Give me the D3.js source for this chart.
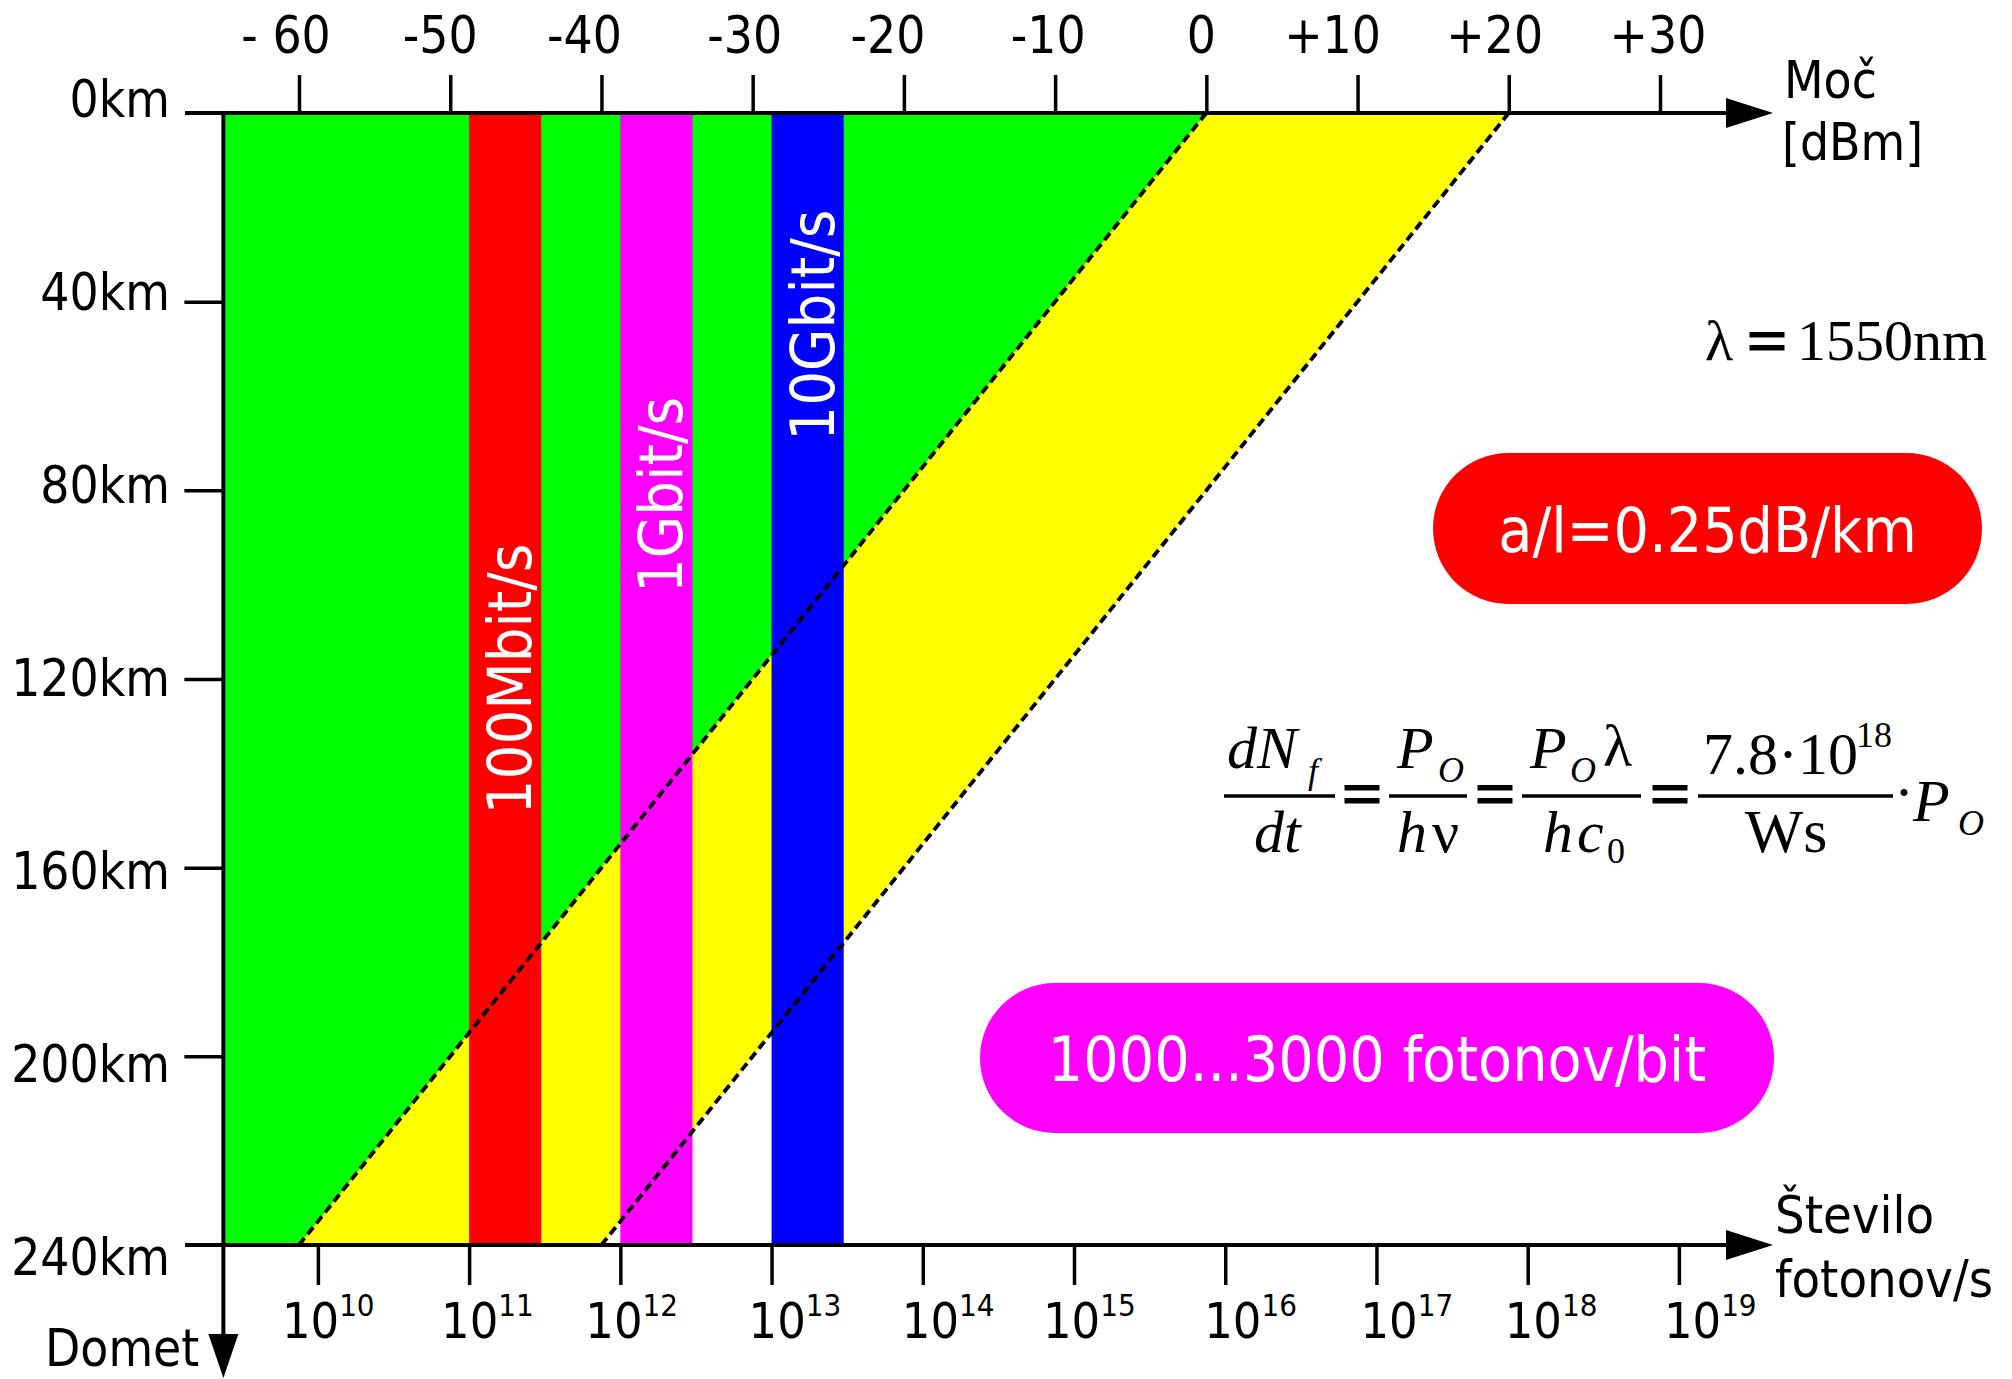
<!DOCTYPE html>
<html>
<head>
<meta charset="utf-8">
<script src="https://cdn.jsdelivr.net/npm/d3@7"></script>
<style>
  body { margin: 0; background: #ffffff; }
  svg text { font-family: "DejaVu Sans Condensed", "DejaVu Sans", sans-serif; font-stretch: condensed; }
  .serif text, text.serif { font-family: "Liberation Serif", "Times New Roman", serif; font-stretch: normal; }
</style>
</head>
<body>
<svg id="chart" width="2012" height="1379"></svg>
<script>
// ---- data ----
const powerTicks = [-60, -50, -40, -30, -20, -10, 0, 10, 20, 30];          // dBm
const powerTickLabels = ["- 60", "-50", "-40", "-30", "-20", "-10", "0", "+10", "+20", "+30"];
const photonExponents = [10, 11, 12, 13, 14, 15, 16, 17, 18, 19];          // 10^k photons/s
const distanceTicks = [0, 40, 80, 120, 160, 200, 240];                      // km
const distanceTickLabels = ["0km", "40km", "80km", "120km", "160km", "200km", "240km"];
const launchPowers = [0, 20];                                               // dBm at 0 km
const attenuation = 0.25;                                                   // dB/km
const bitRates = [1e8, 1e9, 1e10];                                          // bit/s
const bitRateLabels = ["100Mbit/s", "1Gbit/s", "10Gbit/s"];
const photonsPerBit = [1000, 3000];
const photonsAt0dBm = 7.5e15;                                               // photons/s at 1 mW
const powerMin = -65, distanceMax = 240;

// ---- layout ----
const svg = d3.select("#chart");
const x = d3.scaleLinear().domain([-60, 30]).range([299, 1660]);
const y = d3.scaleLinear().domain([0, distanceMax]).range([113, 1245]);
const xN = d3.scaleLog()
  .domain([photonsAt0dBm * Math.pow(10, -60 / 10), photonsAt0dBm * Math.pow(10, 30 / 10)])
  .range([x(-60), x(30)]);
const yLabel = d3.scaleLinear().domain([0, distanceMax]).range([117, 1275]);
const topLabelShift = [-13, -10, -17, -8, -16, -7, -5, -25, -14, -2];
const bottomLabelShift = [-36, -28, -35, -23, -21, -31, -21, -16, -23, -15];
const bandLabelKm = [120, 81, 45];
const bandColors = ["#ff0000", "#ff00ff", "#0000ff"];
const axisRight = 1728, arrowTip = 1773, axisLeftStart = 185;

const received = (p0, d) => p0 - attenuation * d;
const pt = (p, d) => [x(p), y(d)];

// ---- coverage regions ----
const green = [pt(powerMin, 0), pt(received(launchPowers[0], 0), 0),
               pt(received(launchPowers[0], distanceMax), distanceMax), pt(powerMin, distanceMax)];
const yellow = [pt(received(launchPowers[0], 0), 0), pt(received(launchPowers[1], 0), 0),
                pt(received(launchPowers[1], distanceMax), distanceMax),
                pt(received(launchPowers[0], distanceMax), distanceMax)];
const line = d3.line();
svg.append("path").attr("d", line(green) + "Z").attr("fill", "#00ff00");
svg.append("path").attr("d", line(yellow) + "Z").attr("fill", "#ffff00");

// ---- bit-rate bands ----
const bands = bitRates.map((r, i) => ({
  x0: xN(r * photonsPerBit[0]), x1: xN(r * photonsPerBit[1]),
  label: bitRateLabels[i], color: bandColors[i], km: bandLabelKm[i]
}));
svg.selectAll("rect.band").data(bands).join("rect")
  .attr("class", "band")
  .attr("x", d => d.x0).attr("width", d => d.x1 - d.x0)
  .attr("y", y(0)).attr("height", y(distanceMax) - y(0))
  .attr("fill", d => d.color);

// ---- attenuation lines ----
svg.selectAll("path.att").data(launchPowers).join("path")
  .attr("class", "att")
  .attr("d", p => line([pt(p, 0), pt(received(p, distanceMax), distanceMax)]))
  .attr("stroke", "#000").attr("stroke-width", 3.8)
  .attr("stroke-dasharray", "9,5").attr("fill", "none");

// band labels
svg.selectAll("text.bandLabel").data(bands).join("text")
  .attr("class", "bandLabel")
  .attr("transform", d => `translate(${(d.x0 + d.x1) / 2 + 26},${y(d.km)}) rotate(-90)`)
  .attr("text-anchor", "middle")
  .attr("font-size", 61).attr("fill", "#ffffff")
  .text(d => d.label);

// ---- axes ----
const styleAxis = g => {
  g.select(".domain").remove();
  g.selectAll(".tick line").attr("stroke", "#000").attr("stroke-width", 3.5);
  g.selectAll(".tick text").remove();
};
svg.append("g").attr("transform", `translate(0,${y(0)})`)
  .call(d3.axisTop(x).tickValues(powerTicks).tickSize(38)).call(styleAxis);
svg.append("g").attr("transform", `translate(0,${y(distanceMax)})`)
  .call(d3.axisBottom(xN).tickValues(photonExponents.map(k => Math.pow(10, k))).tickSize(40)).call(styleAxis);
svg.append("g").attr("transform", `translate(${x(powerMin)},0)`)
  .call(d3.axisLeft(y).tickValues(distanceTicks.slice(1, -1)).tickSize(39)).call(styleAxis);

// axis lines with arrows
[y(0), y(distanceMax)].forEach(yy => {
  svg.append("line").attr("x1", axisLeftStart).attr("x2", axisRight)
    .attr("y1", yy).attr("y2", yy).attr("stroke", "#000").attr("stroke-width", 4);
  svg.append("path").attr("d", `M${axisRight - 2},${yy - 15}L${arrowTip},${yy}L${axisRight - 2},${yy + 15}Z`)
    .attr("fill", "#000");
});
const x0 = x(powerMin);
svg.append("line").attr("x1", x0).attr("x2", x0).attr("y1", y(0) - 2).attr("y2", 1336)
  .attr("stroke", "#000").attr("stroke-width", 4);
svg.append("path").attr("d", `M${x0 - 15},1334L${x0},1378L${x0 + 15},1334Z`).attr("fill", "#000");

// tick labels
svg.selectAll("text.top").data(powerTicks).join("text")
  .attr("class", "top")
  .attr("x", (d, i) => x(d) + topLabelShift[i]).attr("y", 53)
  .attr("text-anchor", "middle").attr("font-size", 51)
  .text((d, i) => powerTickLabels[i]);

svg.selectAll("text.left").data(distanceTicks).join("text")
  .attr("class", "left")
  .attr("x", 170).attr("y", d => yLabel(d))
  .attr("text-anchor", "end").attr("font-size", 51)
  .text((d, i) => distanceTickLabels[i]);

const bottom = svg.selectAll("text.bottom").data(photonExponents).join("text")
  .attr("class", "bottom")
  .attr("x", (k, i) => xN(Math.pow(10, k)) + bottomLabelShift[i]).attr("y", 1338)
  .attr("font-size", 50);
bottom.append("tspan").text("10");
bottom.append("tspan").attr("font-size", 31).attr("dy", -22).text(k => k);

// axis titles
const title = (t, xx, yy, size) => svg.append("text").attr("x", xx).attr("y", yy)
  .attr("font-size", size || 51).text(t);
title("Moč", 1784, 98);
title("[dBm]", 1782, 160);
title("Število", 1775, 1233, 52);
title("fotonov/s", 1775, 1297, 52);
title("Domet", 45, 1366);

// ---- annotations ----
const pill = (x1, y1, x2, y2, color, t) => {
  const h = y2 - y1;
  svg.append("rect").attr("x", x1).attr("y", y1).attr("width", x2 - x1).attr("height", h)
    .attr("rx", h / 2).attr("ry", h / 2).attr("fill", color);
  svg.append("text").attr("x", (x1 + x2) / 2).attr("y", y1 + h / 2 + 23)
    .attr("text-anchor", "middle").attr("font-size", 62).attr("fill", "#fff").text(t);
};
pill(1433, 453, 1982, 604, "#ff0000", "a/l=0.25dB/km");
pill(980, 983, 1774, 1133, "#ff00ff", "1000...3000 fotonov/bit");

// equals sign drawn as two heavy bars
const equals = (cx, cy, w) => {
  [-9, 4].forEach(o => svg.append("rect").attr("x", cx - w / 2).attr("y", cy + o)
    .attr("width", w).attr("height", 5.5).attr("fill", "#000"));
};

// wavelength
const lam = svg.append("text").attr("class", "serif").attr("y", 360).attr("font-size", 58);
lam.append("tspan").attr("x", 1705).text("λ");
lam.append("tspan").attr("x", 1797).text("1550nm");
equals(1767, 341, 35);

// photon-rate formula
const f = svg.append("g").attr("class", "serif");
const ft = (t, xx, yy, size, italic, anchor) => f.append("text")
  .attr("x", xx).attr("y", yy).attr("font-size", size)
  .attr("font-style", italic ? "italic" : "normal")
  .attr("text-anchor", anchor || "start").text(t);
const bar = (a, b) => f.append("line").attr("x1", a).attr("x2", b).attr("y1", 796).attr("y2", 796)
  .attr("stroke", "#000").attr("stroke-width", 3.5);
// dN_f / dt
ft("dN", 1227, 768, 60, true); ft("f", 1308, 783, 36, true);
bar(1224, 1335); ft("dt", 1254, 852, 60, true);
equals(1362, 794, 35);
// P_O / hν
ft("P", 1397, 768, 60, true); ft("O", 1438, 782, 36, true);
bar(1389, 1467); ft("h", 1397, 852, 60, true); ft("ν", 1432, 852, 60, false);
equals(1495, 794, 35);
// P_O λ / h c_0
ft("P", 1530, 768, 60, true); ft("O", 1570, 782, 36, true); ft("λ", 1603, 766, 60, false);
bar(1522, 1641); ft("h", 1543, 852, 60, true); ft("c", 1577, 852, 60, true); ft("0", 1607, 863, 36, false);
equals(1670, 794, 35);
// 7.8·10^18 / Ws
ft("7.8·10", 1703, 774, 60, false); ft("18", 1856, 747, 36, false);
bar(1698, 1893); ft("Ws", 1786, 852, 62, false, "middle");
// · P_O
ft("·", 1904, 812, 60, false, "middle");
ft("P", 1913, 821, 60, true); ft("O", 1958, 835, 36, true);
</script>
</body>
</html>
